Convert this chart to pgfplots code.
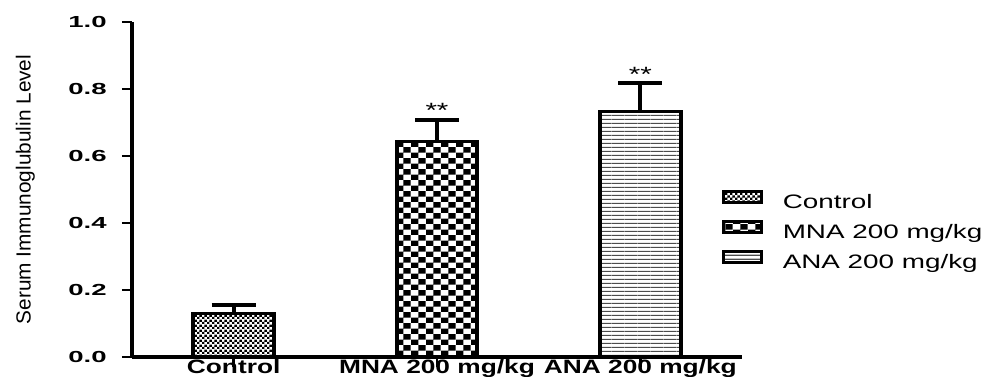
\documentclass[border=0pt]{standalone}
\usepackage{fontspec}
\setmainfont{Liberation Sans}
\newfontfamily\tickfont[FakeStretch=1.72,UprightFont=* Bold]{Liberation Sans}
\newfontfamily\xlabfont[FakeStretch=1.36,UprightFont=* Bold]{Liberation Sans}
\newfontfamily\legfont[FakeStretch=1.43]{Liberation Sans}
\newfontfamily\ylabfont[FakeStretch=1.02]{Liberation Sans}
\usepackage{pgfplots}
\pgfplotsset{compat=1.18}
\usetikzlibrary{patterns}

\pgfdeclarepatternformonly{finecheck}{\pgfqpoint{0pt}{0pt}}{\pgfqpoint{4pt}{3.5pt}}{\pgfqpoint{4pt}{3.5pt}}{%
  \pgfpathrectangle{\pgfqpoint{0pt}{0pt}}{\pgfqpoint{2pt}{1.75pt}}%
  \pgfpathrectangle{\pgfqpoint{2pt}{1.75pt}}{\pgfqpoint{2pt}{1.75pt}}%
  \pgfusepath{fill}}
\pgfdeclarepatternformonly{coarsecheck}{\pgfqpoint{0pt}{0pt}}{\pgfqpoint{11pt}{8.2pt}}{\pgfqpoint{11pt}{8.2pt}}{%
  \pgfpathrectangle{\pgfqpoint{0pt}{0pt}}{\pgfqpoint{5.5pt}{4.1pt}}%
  \pgfpathrectangle{\pgfqpoint{5.5pt}{4.1pt}}{\pgfqpoint{5.5pt}{4.1pt}}%
  \pgfusepath{fill}}
\pgfdeclarepatternformonly{hlinesfine}{\pgfqpoint{0pt}{0pt}}{\pgfqpoint{10pt}{3pt}}{\pgfqpoint{10pt}{3pt}}{%
  \pgfsetlinewidth{1.1pt}%
  \pgfpathmoveto{\pgfqpoint{0pt}{1.5pt}}\pgfpathlineto{\pgfqpoint{10pt}{1.5pt}}%
  \pgfusepath{stroke}}

\begin{document}
\begin{tikzpicture}
\begin{axis}[
  at={(99pt,15pt)}, anchor=south west,
  scale only axis, width=457.5pt, height=251.25pt,
  xmin=-0.5, xmax=2.5, ymin=0, ymax=1,
  axis x line=bottom, axis y line=left,
  axis line style={-, line width=2.4pt, black},
  xtick={0,1,2},
  xticklabels={Control, MNA 200 mg/kg, ANA 200 mg/kg},
  ytick={0,0.2,0.4,0.6,0.8,1.0},
  yticklabels={0.0,0.2,0.4,0.6,0.8,1.0},
  tick align=outside, major tick length=7.5pt,
  tick style={line width=2.2pt, black},
  xticklabel style={font=\xlabfont\fontsize{14.5}{16}\selectfont, anchor=base, inner sep=0pt, yshift=-5pt},
  yticklabel style={font=\tickfont\fontsize{12}{13}\selectfont, anchor=east, xshift=-8pt},
  ylabel={Serum Immunoglubulin Level},
  every axis y label/.style={at={(rel axis cs:0,0.5)}, xshift=-80pt, anchor=center, rotate=90, font=\ylabfont\fontsize{15.3}{17}\selectfont},
  legend style={draw=none, fill=none, at={(rel axis cs:0.967,0.499)}, anchor=north west,
    inner sep=0pt, outer sep=0pt, row sep=5pt,
    font=\legfont\fontsize{14.6}{16}\selectfont,
    nodes={inner sep=0pt, text height=10.5pt, text depth=3.5pt},
    /tikz/every odd column/.append style={column sep=15pt}},
  legend cell align=left,
  ybar, bar width=60.5pt,
  error bars/error bar style={line width=3pt, black},
  error bars/error mark options={line width=3pt, black, mark size=16.5pt, rotate=90},
]
\addplot[draw=black, line width=2.8pt, pattern=finecheck, bar shift=0pt,
  legend image code/.code={\draw[line width=2.2pt, draw=black, pattern=finecheck] (0pt,1.1pt) rectangle (28.5pt,9.35pt);},
  error bars/.cd, y dir=plus, y explicit]
  coordinates {(0,0.130) +- (0,0.024)};
\addlegendentry{Control}
\addplot[draw=black, line width=2.8pt, pattern=coarsecheck, bar shift=0pt,
  legend image code/.code={\draw[line width=2.2pt, draw=black, pattern=coarsecheck] (0pt,1.1pt) rectangle (28.5pt,9.35pt);},
  error bars/.cd, y dir=plus, y explicit]
  coordinates {(1,0.643) +- (0,0.063)};
\addlegendentry{MNA 200 mg/kg}
\addplot[draw=black, line width=2.8pt, pattern=hlinesfine, pattern color=black!70, bar shift=0pt,
  legend image code/.code={\draw[line width=2.2pt, draw=black, pattern=hlinesfine, pattern color=black!70] (0pt,1.1pt) rectangle (28.5pt,9.35pt);},
  error bars/.cd, y dir=plus, y explicit]
  coordinates {(2,0.733) +- (0,0.085)};
\addlegendentry{ANA 200 mg/kg}
\node[font=\legfont\fontsize{15.5}{16}\selectfont, anchor=base] at (axis cs:1,0.716) {**};
\node[font=\legfont\fontsize{15.5}{16}\selectfont, anchor=base] at (axis cs:2,0.821) {**};
\end{axis}
\pgfresetboundingbox
\useasboundingbox (0,0) rectangle (738.75pt,282.75pt);
\end{tikzpicture}
\end{document}
